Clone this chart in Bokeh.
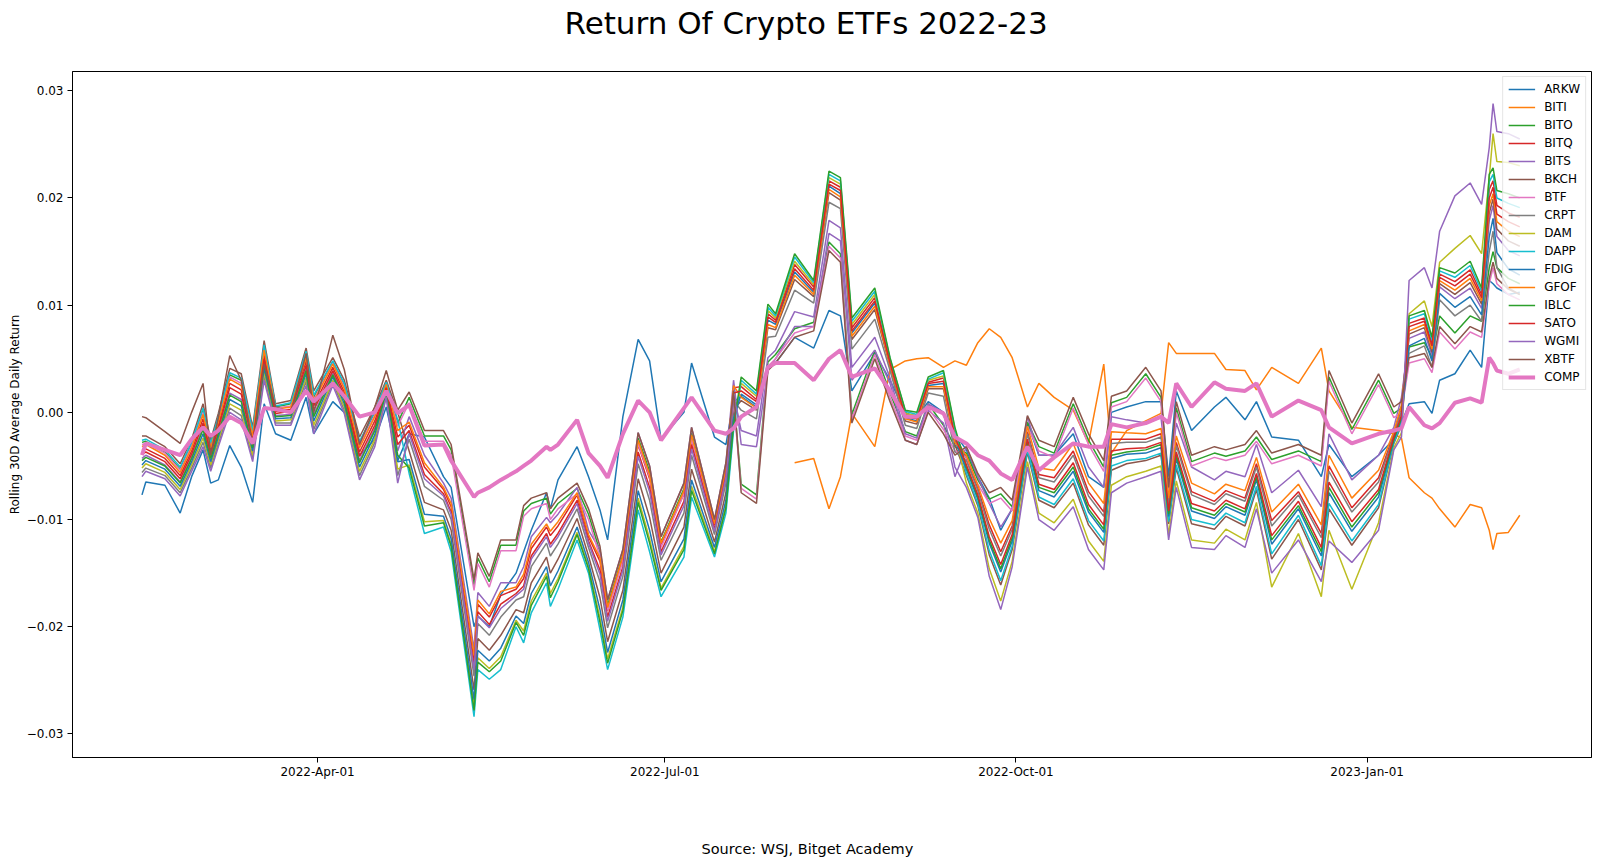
import numpy as np
import pandas as pd
from datetime import datetime
from bokeh.plotting import figure
from bokeh.models import FixedTicker, CustomJSTickFormatter, Range1d, Title
from bokeh.embed import file_html
from bokeh.resources import INLINE

# ---------------- data (values in units of 0.0001) ----------------
UNIT = 1e-4

dates = [
    "2022-02-14", "2022-02-15", "2022-02-20", "2022-02-24", "2022-02-27", "2022-03-02", "2022-03-04", "2022-03-06",
    "2022-03-09", "2022-03-12", "2022-03-15", "2022-03-18", "2022-03-21", "2022-03-25", "2022-03-29", "2022-03-31",
    "2022-04-05", "2022-04-08", "2022-04-12", "2022-04-16", "2022-04-19", "2022-04-22",
    "2022-04-25", "2022-04-29", "2022-05-04", "2022-05-06", "2022-05-12", "2022-05-13", "2022-05-16", "2022-05-19",
    "2022-05-23", "2022-05-25", "2022-05-27", "2022-05-31", "2022-06-01", "2022-06-03", "2022-06-08", "2022-06-11",
    "2022-06-14", "2022-06-16", "2022-06-20", "2022-06-24", "2022-06-27", "2022-06-30", "2022-07-06", "2022-07-08",
    "2022-07-14", "2022-07-17", "2022-07-19",
    "2022-07-21", "2022-07-25", "2022-07-28", "2022-07-30", "2022-08-04", "2022-08-09", "2022-08-13", "2022-08-16",
    "2022-08-19", "2022-08-25", "2022-08-29", "2022-09-02", "2022-09-05", "2022-09-08", "2022-09-12", "2022-09-15",
    "2022-09-18", "2022-09-21", "2022-09-24", "2022-09-27", "2022-09-30", "2022-10-04", "2022-10-07", "2022-10-11",
    "2022-10-16", "2022-10-20", "2022-10-24", "2022-10-26", "2022-10-30", "2022-11-04", "2022-11-08", "2022-11-10",
    "2022-11-12", "2022-11-16", "2022-11-22", "2022-11-25", "2022-11-30", "2022-12-03", "2022-12-07", "2022-12-14",
    "2022-12-20", "2022-12-22", "2022-12-28", "2023-01-04", "2023-01-08", "2023-01-10",
    "2023-01-12", "2023-01-16", "2023-01-18", "2023-01-20", "2023-01-24", "2023-01-28", "2023-01-31", "2023-02-02",
    "2023-02-03", "2023-02-04", "2023-02-07", "2023-02-10",
]

ARKW = [-77, -65, -68, -94, -60, -35, -66, -63, -31, -51, -84, 8, -20, -26, 14, -20, 10, 0, -40, -25, 5, -45,
        -20, -23, -60, -70, -200, -190, -200, -170, -150, -130, -110, -75, -90, -63, -32, -60, -91, -119, -4, 68, 48, -25, 0, 46, -23, -30, 10,
        15, 5, 40, 46, 70, 60, 95, 90, 20, 55, 30, 0, -5, 10, 0, -20,
        -35, -60, -80, -110, -90, -10, -40, -40, -20, -60, -70, 0, 5, 10, 10, -60, 20, -17, 5, 14, -7, 10, -23, -26, -60, -30, -60, -40, -25, -10,
        8, 10, -1, 30, 36, 58, 42, 123, 120, 116, 110, 112]

BITI = [None] * 53 + [
        -47, -43, -90, -60, -1, -32, 40, 48, 50, 51, 42, 48,
        44, 65, 78, 70, 51, 5, 27, 14, 2, -29, 45, -38, -17, -8, -1, 65, 55, 55, 55, 40, 39, 21, 42, 27, 60, 20, -14, -17, -20, -24,
        -61, -75, -80, -90, -107, -86, -89, -110, -128, -113, -112, -96]

BITO = [-28, -27, -37, -53, -30, 2, -30, -6, 35, 30, -19, 61, 5, 8, 55, 14, 47, 25, -29, 0, 28, -10,
        14, -22, -22, -35, -161, -136, -158, -124, -124, -92, -85, -80, -95, -85, -71, -95, -130, -180, -133, -24, -55, -121, -71, -19, -105, -52, 15,
        -67, -77, 47, 54, 78, 84, 159, 148, -2, 58, 18, -18, -22, 8, -12, -32,
        -38, -63, -81, -76, -88, -9, -32, -38, 8, -26, -51, 9, 14, 36, 14, -76, 4, -46, -38, -41, -36, -23, -44, -36, -46, 33, -16, 30, -1, 4,
        61, 65, 52, 90, 74, 90, 85, 135, 150, 135, 125, 120]

BITQ = [-35, -34, -43, -59, -36, -6, -36, -12, 27, 21, -25, 54, 1, 3, 48, 6, 42, 19, -37, -8, 24, -23,
        -12, -51, -72, -88, -230, -179, -191, -171, -165, -155, -127, -107, -115, -106, -77, -116, -139, -185, -137, -30, -62, -124, -76, -24, -105, -54, 23,
        24, 12, 92, 86, 138, 117, 216, 210, 79, 107, 47, -2, -5, 28, 32, -21,
        -43, -71, -105, -130, -106, -18, -58, -61, -36, -74, -93, -25, -25, -25, -20, -85, -28, -74, -83, -73, -80, -48, -101, -74, -113, -50, -89, -61, -20, 3,
        83, 88, 64, 129, 122, 133, 110, 208, 216, 193, 186, 182]

BITS = [-43, -40, -49, -65, -42, -14, -42, -18, 18, 12, -32, 47, -3, -2, 41, -2, 37, 13, -45, -15, 21, -36,
        -4, -40, -66, -80, -221, -168, -181, -159, -159, -144, -116, -98, -103, -95, -70, -110, -128, -175, -128, -19, -50, -116, -66, -14, -100, -47, 30,
        -30, -32, 39, 50, 80, 80, 167, 160, 30, 58, 27, -26, -30, 2, -10, -60,
        -32, -60, -85, -107, -90, -4, -40, -40, -14, -51, -70, -4, -7, -10, -5, -70, -10, -51, -63, -55, -60, -30, -75, -54, -88, -20, -63, -40, -14, 14,
        69, 75, 53, 117, 106, 116, 97, 179, 193, 164, 151, 146]

BKCH = [-22, -22, -32, -48, -25, 8, -26, -1, 41, 36, -14, 67, 8, 11, 60, 20, 51, 30, -23, 5, 30, 0,
        -36, -84, -91, -110, -259, -211, -222, -208, -184, -187, -159, -135, -150, -137, -99, -134, -173, -214, -166, -62, -98, -150, -107, -53, -121, -75, 2,
        11, 2, 79, 77, 124, 108, 205, 198, 68, 96, 43, -8, -11, 22, 22, -30,
        -59, -87, -133, -161, -128, -37, -82, -89, -66, -105, -124, -54, -48, -45, -40, -104, -52, -104, -109, -97, -106, -72, -137, -100, -147, -90, -124, -89, -29, -12,
        73, 79, 56, 120, 110, 121, 101, 186, 199, 171, 160, 155]

BTF = [-30, -29, -38, -54, -31, 0, -32, -7, 33, 27, -20, 60, 4, 6, 53, 12, 46, 24, -31, -2, 27, -13,
       9, -27, -27, -40, -166, -141, -163, -129, -129, -97, -90, -85, -100, -90, -76, -100, -135, -185, -138, -29, -60, -126, -76, -24, -110, -57, 10,
       -71, -81, 43, 50, 74, 80, 155, 144, -6, 54, 14, -22, -26, 4, -16, -36,
       -42, -67, -85, -80, -92, -13, -36, -42, 4, -30, -55, 5, 10, 32, 10, -80, 0, -50, -42, -45, -40, -27, -48, -40, -50, 29, -20, 26, -5, 0,
       46, 50, 37, 75, 59, 75, 70, 120, 135, 120, 110, 105]

CRPT = [-56, -52, -59, -75, -52, -28, -52, -29, 4, -3, -43, 34, -10, -10, 29, -16, 28, 2, -59, -28, 16, -59,
        -25, -69, -82, -100, -246, -197, -208, -191, -175, -172, -144, -122, -134, -123, -90, -126, -158, -201, -153, -48, -82, -138, -94, -40, -114, -66, 11,
        2, -6, 70, 71, 114, 102, 196, 190, 59, 87, 39, -12, -15, 18, 15, -37,
        -45, -73, -109, -134, -109, -20, -61, -65, -40, -78, -97, -29, -28, -28, -23, -87, -31, -77, -86, -76, -83, -51, -106, -77, -117, -55, -93, -65, -21, 1,
        55, 62, 42, 105, 90, 100, 85, 150, 169, 135, 116, 110]

DAM = [-52, -48, -56, -72, -49, -24, -49, -26, 8, 2, -40, 37, -8, -7, 32, -12, 30, 5, -55, -25, 17, -53,
       -49, -102, -101, -123, -275, -229, -239, -228, -194, -204, -176, -150, -169, -155, -112, -144, -192, -230, -182, -80, -118, -164, -125, -69, -130, -87, -10,
       27, 15, 95, 88, 141, 119, 219, 213, 82, 110, 49, -1, -3, 30, 34, -19,
       -66, -94, -146, -176, -139, -46, -94, -103, -81, -120, -139, -68, -60, -55, -50, -114, -64, -119, -122, -109, -119, -84, -163, -113, -172, -110, -165, -103, -33, -19,
       92, 104, 80, 140, 153, 165, 148, 219, 260, 234, 233, 230]

DAPP = [-26, -25, -35, -51, -28, 4, -29, -4, 37, 32, -17, 63, 6, 9, 57, 16, 48, 27, -27, 1, 28, -7,
        -57, -113, -107, -130, -284, -240, -249, -240, -200, -215, -187, -159, -181, -165, -119, -150, -203, -240, -191, -91, -130, -172, -135, -79, -135, -94, -17,
        30, 17, 98, 90, 145, 121, 222, 216, 85, 113, 50, 1, -2, 31, 37, -16,
        -57, -85, -129, -157, -125, -35, -79, -86, -62, -101, -120, -50, -45, -43, -38, -102, -49, -100, -105, -94, -103, -69, -132, -96, -143, -85, -120, -86, -28, -10,
        87, 92, 67, 132, 126, 137, 113, 215, 222, 200, 195, 191]

FDIG = [-49, -45, -53, -69, -46, -20, -46, -23, 12, 6, -36, 41, -6, -5, 36, -8, 33, 8, -51, -21, 19, -46,
        -44, -95, -97, -118, -268, -222, -232, -220, -190, -197, -169, -144, -162, -148, -107, -140, -184, -224, -175, -73, -110, -158, -118, -63, -126, -82, -5,
        17, 7, 86, 82, 131, 112, 211, 204, 74, 102, 45, -5, -8, 25, 27, -26,
        -53, -81, -122, -149, -120, -30, -73, -79, -55, -93, -112, -43, -39, -38, -33, -97, -43, -92, -99, -88, -96, -63, -123, -90, -134, -75, -111, -79, -26, -6,
        62, 69, 48, 111, 98, 108, 91, 164, 181, 149, 134, 128]

GFOF = [-32, -30, -40, -56, -33, -2, -33, -9, 31, 25, -22, 58, 3, 5, 51, 10, 45, 22, -33, -4, 26, -17,
        -9, -47, -70, -85, -227, -175, -188, -167, -163, -151, -123, -104, -111, -102, -75, -114, -136, -182, -134, -26, -58, -122, -73, -21, -104, -52, 25,
        14, 4, 82, 79, 128, 110, 208, 201, 71, 99, 44, -6, -9, 24, 24, -28,
        -40, -68, -99, -122, -101, -13, -52, -54, -29, -66, -85, -18, -19, -20, -15, -80, -22, -66, -76, -67, -73, -42, -93, -67, -105, -40, -80, -54, -18, 7,
        76, 82, 59, 123, 114, 125, 104, 193, 204, 178, 169, 164]

IBLC = [-45, -42, -50, -66, -43, -16, -43, -20, 16, 10, -33, 45, -4, -3, 39, -4, 35, 11, -47, -17, 20, -40,
        -52, -106, -103, -125, -278, -233, -242, -232, -196, -208, -180, -153, -173, -158, -114, -146, -196, -234, -185, -84, -122, -166, -128, -73, -132, -89, -12,
        33, 20, 101, 92, 148, 123, 225, 219, 88, 116, 51, 2, 0, 33, 39, -14,
        -51, -79, -119, -146, -117, -28, -70, -75, -51, -90, -109, -40, -37, -35, -30, -95, -40, -89, -96, -85, -93, -60, -119, -87, -130, -70, -107, -75, -25, -5,
        90, 95, 70, 135, 130, 141, 116, 222, 228, 207, 204, 200]

SATO = [-39, -37, -46, -62, -39, -10, -39, -15, 23, 17, -28, 50, -1, 1, 44, 2, 39, 16, -41, -12, 23, -30,
        -17, -58, -76, -93, -237, -186, -198, -179, -169, -162, -134, -113, -123, -113, -82, -120, -147, -191, -144, -37, -70, -130, -83, -30, -109, -59, 18,
        20, 10, 89, 84, 134, 114, 213, 207, 76, 104, 46, -4, -6, 27, 29, -23,
        -49, -77, -116, -142, -114, -25, -67, -72, -47, -86, -105, -36, -34, -33, -28, -92, -37, -85, -92, -82, -90, -57, -115, -83, -126, -65, -102, -72, -23, -3,
        80, 85, 62, 126, 118, 129, 107, 200, 210, 185, 178, 173]

WGMI = [-60, -55, -62, -78, -55, -32, -55, -32, 0, -7, -46, 30, -12, -12, 25, -20, 25, -1, -63, -32, 14, -66,
        -20, -62, -78, -95, -240, -190, -201, -183, -171, -165, -137, -116, -126, -116, -85, -122, -151, -195, -147, -41, -74, -133, -87, -34, -111, -61, 16,
        -17, -22, 51, 58, 94, 89, 179, 172, 42, 70, 32, -20, -24, 8, 0, -51,
        -70, -98, -153, -184, -144, -51, -100, -110, -88, -128, -147, -75, -66, -60, -55, -119, -70, -126, -128, -115, -126, -90, -150, -119, -158, -120, -140, -110, -35, -23,
        123, 135, 116, 169, 202, 214, 194, 247, 288, 262, 260, 255]

XBTF = [-4, -5, -18, -29, 0, 27, -40, -5, 53, 30, -30, 45, 5, 0, 55, 0, 72, 40, -30, 5, 39, 2,
        19, -17, -17, -30, -156, -131, -153, -119, -119, -87, -80, -75, -90, -80, -66, -90, -125, -175, -128, -19, -50, -116, -66, -14, -100, -47, 20,
        -75, -85, 39, 46, 70, 76, 151, 140, -10, 50, 10, -26, -30, 0, -20, -40,
        -32, -57, -75, -70, -82, -3, -26, -32, 14, -20, -45, 15, 20, 42, 20, -70, 10, -40, -32, -35, -30, -17, -38, -30, -40, 39, -10, 36, 5, 10,
        51, 55, 42, 80, 64, 80, 75, 125, 140, 125, 115, 110]

COMP = [-40, -29, -35, -40, -25, -14, -22, -17, -4, -10, -29, 4, 3, 0, 20, 10, 27, 15, -4, 0, 20, -1,
        7, -31, -30, -45, -79, -75, -70, -63, -55, -50, -45, -32, -35, -30, -7, -38, -50, -61, -20, 11, 0, -26, 4, 14, -17, -20, -15,
        -4, 5, 42, 46, 46, 30, 50, 58, 33, 41, 20, -4, -4, 5, -1, -23,
        -29, -40, -45, -57, -63, -32, -54, -42, -29, -32, -32, -11, -14, -10, -4, -10, 27, 5, 28, 22, 20, 27, -4, 11, 2, -14, -29, -20, -17, -15,
        5, -12, -15, -10, 9, 13, 9, 51, 46, 39, 36, 40]

names = ["ARKW", "BITI", "BITO", "BITQ", "BITS", "BKCH", "BTF", "CRPT", "DAM", "DAPP",
         "FDIG", "GFOF", "IBLC", "SATO", "WGMI", "XBTF", "COMP"]
values = [ARKW, BITI, BITO, BITQ, BITS, BKCH, BTF, CRPT, DAM, DAPP,
          FDIG, GFOF, IBLC, SATO, WGMI, XBTF, COMP]
colors = ["#1f77b4", "#ff7f0e", "#2ca02c", "#d62728", "#9467bd", "#8c564b", "#e377c2", "#7f7f7f", "#bcbd22", "#17becf",
          "#1f77b4", "#ff7f0e", "#2ca02c", "#d62728", "#9467bd", "#8c564b", "#e377c2"]

x_ticks = ["2022-04-01", "2022-07-01", "2022-10-01", "2023-01-01"]
y_ticks = [-0.03, -0.02, -0.01, 0.0, 0.01, 0.02, 0.03]

TITLE = "Return Of Crypto ETFs 2022-23"
SOURCE = "Source: WSJ, Bitget Academy"
YLABEL = "Rolling 30D Average Daily Return"

for n, v in zip(names, values):
    assert len(v) == len(dates), (n, len(v), len(dates))

# ---------------- figure ----------------
FONT = "DejaVu Sans"
x = pd.to_datetime(dates)

p = figure(width=1600, height=867, x_axis_type="datetime",
           output_backend="svg", toolbar_location=None,
           min_border_left=72, min_border_right=9, min_border_top=71, min_border_bottom=110,
           x_range=Range1d(datetime(2022, 1, 26, 19), datetime(2023, 2, 28, 19)),
           y_range=Range1d(-0.0322, 0.0318))

p.background_fill_color = "white"
p.border_fill_color = "white"
p.outline_line_color = "black"
p.outline_line_width = 1
p.outline_line_alpha = 1
p.xgrid.visible = False
p.ygrid.visible = False

for n, v, c in zip(names, values, colors):
    y = np.array(v, dtype=float) * UNIT
    lw = 4 if n == "COMP" else 1.5
    p.line(x, y, line_color=c, line_width=lw, legend_label=n)

# axes
p.xaxis.ticker = FixedTicker(ticks=[pd.Timestamp(t).value / 1e6 for t in x_ticks])
p.xaxis.formatter = CustomJSTickFormatter(code="""
const d = new Date(tick);
const m = ["Jan","Feb","Mar","Apr","May","Jun","Jul","Aug","Sep","Oct","Nov","Dec"][d.getUTCMonth()];
const dd = String(d.getUTCDate()).padStart(2, "0");
return d.getUTCFullYear() + "-" + m + "-" + dd;
""")
p.yaxis.ticker = FixedTicker(ticks=y_ticks)
p.yaxis.formatter = CustomJSTickFormatter(code="""
let s = Math.abs(tick) < 1e-12 ? "0.00" : tick.toFixed(2);
return s.replace("-", "\u2212");
""")

for ax in (p.xaxis[0], p.yaxis[0]):
    ax.major_tick_out = 5
    ax.major_tick_in = 0
    ax.minor_tick_out = 0
    ax.minor_tick_in = 0
    ax.major_tick_line_color = "black"
    ax.axis_line_color = "black"
    ax.major_label_text_font = FONT
    ax.major_label_text_font_size = "12px"
    ax.major_label_text_color = "black"

p.xaxis.major_label_standoff = 2
p.yaxis.major_label_standoff = 4
p.yaxis.axis_label = YLABEL
p.yaxis.axis_label_text_font = FONT
p.yaxis.axis_label_text_font_size = "12px"
p.yaxis.axis_label_text_font_style = "normal"
p.yaxis.axis_label_text_color = "black"
p.yaxis.axis_label_standoff = 2

# legend
lg = p.legend[0]
lg.location = "top_right"
lg.margin = 5
lg.padding = 5
lg.spacing = 4
lg.glyph_height = 14
lg.glyph_width = 27
lg.label_height = 14
lg.label_standoff = 9
lg.label_text_font = FONT
lg.label_text_font_size = "12px"
lg.label_text_color = "black"
lg.border_line_color = "#cccccc"
lg.border_line_width = 1
lg.background_fill_alpha = 0.8

# spacer next to the frame, then the title above it
p.add_layout(Title(text="\u00a0", text_font=FONT, text_font_size="1px", text_font_style="normal",
                   align="left", offset=0, standoff=28), "above")
p.add_layout(Title(text=TITLE, text_font=FONT, text_font_size="31px", text_font_style="normal",
                   text_color="black", align="left", offset=492, vertical_align="bottom", standoff=0), "above")
# spacer between the x axis and the source line, then the source line
p.add_layout(Title(text="\u00a0", text_font=FONT, text_font_size="1px", text_font_style="normal",
                   align="left", offset=0, standoff=56), "below")
p.add_layout(Title(text=SOURCE, text_font=FONT, text_font_size="14.5px", text_font_style="normal",
                   text_color="black", align="left", offset=629, vertical_align="top", standoff=0), "below")

open("out.html", "w").write(file_html(p, INLINE))
